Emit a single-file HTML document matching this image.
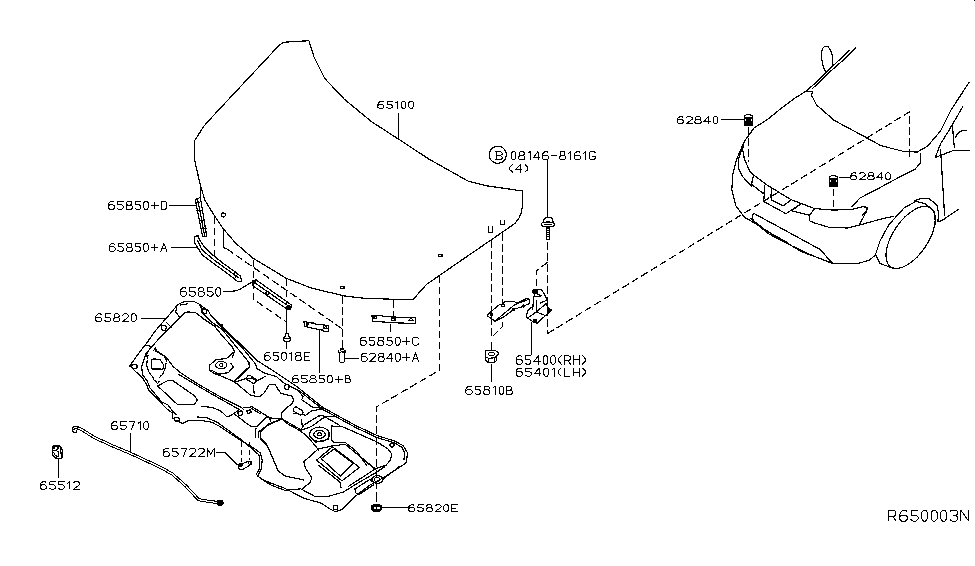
<!DOCTYPE html>
<html><head><meta charset="utf-8"><style>
html,body{margin:0;padding:0;background:#fff;width:975px;height:566px;overflow:hidden}
svg{display:block}
</style></head><body>
<svg width="975" height="566" viewBox="0 0 975 566" shape-rendering="crispEdges">
<g fill="none" stroke="#000" stroke-width="1.2" stroke-linejoin="round" stroke-linecap="round">
<!-- HOOD 65100 -->
<path d="M194.5,159.5 L194.5,140.9 L203.5,126.8 L207.1,122.4 L218.6,110 L279.6,44.8 L284.1,42.2 L308.9,40.7 L314.2,57.5 L324.9,78.6 L344.7,99.6 L371.9,121.9 L397.9,138.7 L428.8,159 L468.4,181.3 L486.1,185.7 L522.5,191 L522.5,205.3 L521.5,212 L518.8,218.5 L515.5,222.8 L511.4,225.9 L490.7,240.2 L456.3,263.8 L426.4,284.5 L412.7,299.9 L364.4,298.3 L344.7,296 L311.1,288 L286.3,278.3 L252.7,258 L235.5,243 L222.8,228.1 L214.9,216.5 L205.1,200.6 L200.5,186 Z"/>
<path d="M200.5,186 L200.5,200"/>
<circle cx="223.3" cy="215" r="2"/>
<path d="M223.5,229 L223.5,247.4 L227.1,249.1"/>
<path d="M398.5,114 L398.5,139"/><path d="M438.5,254.5 L442,254.5 L442,256.5 L438.5,256.5 Z M340.5,286.5 L344,286.5 L344,288.5 L340.5,288.5 Z"/>
<!-- CAR -->
<path d="M849.4,50.5 L830.8,67.8 L817.2,81.4 L806.1,91.2 L795,98 L779.3,109.9 L766.8,120 L754.2,127.8 L744.4,141.4 L736.7,158.9 L732.8,174.4 L731.8,190 L735.7,205.5 L744.4,217.2 L755.8,223.7 L775.9,236.6 L801.7,251.7 L833.3,263.5 L857.7,263.5 L869.2,260.3 L875,255.3"/>
<path d="M855.6,48 L844.4,59.1 L829.6,72.1 L812.3,88.8"/>

<path d="M825.9,72.1 C821.5,66 821.6,58 821.6,53.5 C822,48 824,46.1 826.5,46.1 C829,46.1 830.2,48.6 832.1,54.8 L832.1,65.9"/>
<path d="M744.4,141.4 L742.5,149.2 L744.4,158.9 L749.3,170.5 L754.2,175.4 L765.8,184.2 L791.1,199.7 L814.7,208.6 L833.3,210.1 L852,209.4 L863.5,206.5 L867.1,207.9 L866.4,211.5 L859.2,225.2 L847.7,228 L829,227.3 L814.7,223 L809.5,220.8 L809.5,215.1 L814.7,208.6"/>
<path d="M743.5,144.3 L738.5,158.9 L738.5,168.6 L742.5,176.4 L750.3,185.1 L751.2,186.1 L753.2,176.4"/>
<path d="M753.2,176.4 L751.2,184.2 L763.9,193.9 L764.9,185.1"/>
<path d="M764.9,185.1 L763.7,201.5 L786,213.7 L800.3,204.3 L791.7,210.8 L808.9,215.1"/>
<path d="M771.7,189 L770.9,196.4 L771.6,200 L783.1,205.8 L791,200"/>
<path d="M752.9,214.4 L754.4,213.7 L820.4,249.6 L829,259.6 L833.3,263.9 L811.8,255.3 L787.4,243.8 L768.7,233.8 L753.6,221.6 L752.2,217.3 Z"/>
<path d="M750.8,218.7 L768,232 L787.4,242.4"/>
<!-- windshield base / crease -->
<path d="M807.4,91.5 L812.3,91.5 L811.7,95.6 L816.6,105 L834.4,120.5 L864.1,136.4 L881.2,145.8 L902.4,151.1 L917.3,152.1 L927.9,145.8 L940.6,130.9 L951.2,109.7 L969.3,82.1"/>
<path d="M962.9,106.5 L948,132 L940.6,143.7 L935.3,157.4 L953.4,150.5 L969.3,150.5"/>
<path d="M952.3,124.6 L954.4,147.9"/>
<path d="M955.5,137.3 C958,132 962,130 966.1,130.9"/>
<path d="M940.6,150 L944.6,215.5"/>
<path d="M920.5,153.2 L920.5,162.7 L915.2,169.1 L902.4,175.5 L875.5,190 L860,198 L852,206.5"/>
<path d="M865,206.5 L868,208.8 L862,216"/>
<path d="M859.2,225.2 L880,219.3 L893.5,216.3"/>
<!-- wheel -->
<ellipse cx="910.6" cy="237.4" rx="35.5" ry="17.5" transform="rotate(-56 910.6 237.4)"/>
<path d="M895,268.8 L880,263.6 L875.5,254.6 L880,241 L889,224.5 L904,208 L916,201.3 L925,203.5 L934,211 L935.6,224.5"/>
<path d="M914.5,200.5 L922,198.3 L929.6,199 L937,205 L938.6,214 L937.8,221.5 L941.6,220.8 L958.1,209.5"/>
<!-- clips 62840 car -->
<path d="M722,119.5 L743,119.5"/>
<g transform="translate(-85,-61)"><path d="M829.5,186 L829.5,178 Q829.5,176.2 831,176 L832.2,175.2 L834.3,175.2 L835.5,176 Q837.5,176.2 837.5,178 L837.5,186 Z M830.5,179 L836.5,179 M831,181 L836,181"/><path d="M829.5,182.5 L837.5,182.5 L837.5,185.5 L836.5,186.5 L830.5,186.5 L829.5,185.5 Z" fill="#000"/></g>
<path d="M839.2,177.5 L850,177.5"/>
<g transform="translate(0,0)"><path d="M829.5,186 L829.5,178 Q829.5,176.2 831,176 L832.2,175.2 L834.3,175.2 L835.5,176 Q837.5,176.2 837.5,178 L837.5,186 Z M830.5,179 L836.5,179 M831,181 L836,181"/><path d="M829.5,182.5 L837.5,182.5 L837.5,185.5 L836.5,186.5 L830.5,186.5 L829.5,185.5 Z" fill="#000"/></g>
</g>
<g fill="none" stroke="#000" stroke-width="1.2" stroke-dasharray="7.5,3.5">
<path d="M547.4,333.7 L909.5,111.8 L909.5,159.6"/>
<path d="M748.5,127 L748.5,162"/>
<path d="M833.5,188.5 L833.5,209"/>
</g>

<!-- HINGE AREA -->
<g fill="none" stroke="#000" stroke-width="1.2" stroke-linejoin="round" stroke-linecap="round">
<path d="M547.5,161 L547.5,217"/>
<path d="M543.7,222 Q543.7,217.1 548.3,217.1 Q553,217.1 553,222"/>
<ellipse cx="548" cy="224.5" rx="6.8" ry="2.5"/>
<path d="M545,224.5 L551,224.5"/>
<path d="M546.5,227 L546.5,239.5 L549.5,239.5 L549.5,227 M546.4,228.5 L549.9,228.5 M546.4,230.5 L549.9,230.5 M546.4,232.5 L549.9,232.5 M546.4,234.5 L549.9,234.5 M546.4,236.5 L549.9,236.5"/>
<path d="M488.5,227 L488.5,232.5 L492.5,232.5 L492.5,227"/>
<path d="M500.5,220.6 L500.5,224.5 L504.5,224.5 L504.5,220.6"/>
<path d="M487.3,315.1 L490.5,312 L499.5,304.5 L501.6,304.5 L505.3,301.5 L514.3,301.5 L515.4,302.5 L518.6,302.5 L527.1,298.4 L528.7,299 L529.5,300.8 L529.5,303.5 L522.3,306.7 L513.8,309.3 L504.8,316.2 L495.3,321.5 L487.8,316.2 Z"/>
<path d="M495.8,320.5 L514.9,304.5 L527.6,299.8"/>
<circle cx="503.2" cy="305.6" r="1.4"/>
<circle cx="491.5" cy="314.9" r="1.3" fill="#000"/>
<circle cx="513.8" cy="309.3" r="1.1" fill="#000"/><circle cx="523.4" cy="306.1" r="1.1" fill="#000"/>
<path d="M532.7,290.6 L535.3,293.3 L533.6,297.7 L532.7,309.2 M541.5,289.7 L545.9,296.8 L546.4,300.3 L540.6,303 M527.4,310.9 L526.5,317.1 L532.7,321.6 L537.1,323.3 L541.5,318.9 L545.9,315.4 L547.7,313.6 L551.3,310.1 L547.7,307 L545.9,303 M527.4,310.9 L533.6,305.6 M527.4,318 L535.3,312.7 L545.9,303.9 M536.2,311.8 L545,315.4 M536.5,300.3 L536.5,310.9"/>
<path d="M532.2,290.2 L537.5,289.5 L537.5,292.5 L533.5,293.5 Z" fill="#000"/><path d="M537.5,289.5 L541.5,289.5 L543.3,292.4 L546,297 M534,296.5 L540,296.5 M536,293.5 L541,295.5"/>
<path d="M547.7,307.5 L550.5,310 L547.7,312.5 Z" fill="#000"/>
<circle cx="535.3" cy="320.7" r="1.6" fill="#000"/>
<path d="M531.5,323 L531.5,354"/>
<path d="M491.5,342.1 L491.5,350.1"/>
<path d="M485.4,351.1 L488.6,350.5 L495,350.5 L497.6,351.7 L498.7,353.8 L496.5,356.4 L494.4,357.8 L488.6,358.3 L485.4,357 Z M485.5,357 L485.5,359.6 L486.5,361.2 L488.6,362.5 L494.4,362.5 L496.5,360.7 L496.5,356.4 M488.5,358.3 L488.5,362.3 M494.5,357.8 L494.5,362.3"/>
<ellipse cx="491.5" cy="354" rx="3" ry="1.7"/>
<path d="M491.5,364.1 L491.5,381.5"/>
<circle cx="497.8" cy="154.8" r="8.6"/>
</g>
<g fill="none" stroke="#000" stroke-width="1.2" stroke-dasharray="7.5,3.5">
<path d="M491.5,240 L491.5,337.4 L502.5,326.6 L502.5,318"/>
<path d="M502.5,233 L502.5,305"/>
<path d="M547.5,242 L547.5,333.7"/>
<path d="M547.5,262.3 L536.5,270.8 L536.5,290"/>
</g>
<!-- LEFT BRACKETS & DASHED -->
<g fill="none" stroke="#000" stroke-width="1.2" stroke-linejoin="round" stroke-linecap="round">
<path d="M169.7,205.5 L196,205.5"/>
<path d="M172,247.5 L197,247.5"/>
<path d="M224,291.5 L235,291 C243,289 247,284 252.7,281.8"/>
<path d="M195.2,199.5 L200.4,197.4 L206.7,236.4 L202.7,236.9 Z M197.8,200 L204.7,236"/>
<path d="M195.5,202.5 L199,202.5 M197,210.5 L201,210.5 M200,220.5 L204,220.5 M202,228.5 L206,228.5"/>
<path d="M194.4,236.3 L198.3,235.8 L199.2,238.8 L202.6,244.6 L205.6,248.5 L214.3,256.3 L224,264 L233.8,270.9 L240.6,276.2 L241.6,281.5 L237.7,281.5 L224,270.9 L214.3,264 L202.6,255.3 L198.8,249.5 L194.4,242.6 Z"/>
<path d="M197.8,240.7 L201.7,249.5 L214.3,260.2 L238.6,277.7 M234.3,272 L235.5,277.5"/>
<path d="M252,282.5 L255.5,279.5 L291.5,305 L290.5,309.5 L287.5,309.5 L252.5,285.5 Z M255,283 L289,306.5"/>
<circle cx="254" cy="282" r="1.8" fill="#000"/>
<circle cx="288.5" cy="307" r="1.8" fill="#000"/>
<ellipse cx="267.5" cy="293" rx="1.8" ry="1.2"/>
<path d="M286.5,309 L286.5,333.4"/>
<path d="M285.5,336 L286,333.5 L288,333.5 L288.5,336 L290.8,338 L290.8,339.5 L289,341.5 L285,341.5 L283.2,339.5 L283.2,338 Z M284,338.5 L290,338.5"/><path d="M286.5,341.6 L286.5,348.6"/>
<path d="M319.5,331 L319.5,372"/>
<path d="M304,321.5 L306.1,321.5 L308.6,322.7 L313.9,323.1 L315.9,324.4 L323.3,324.8 L328.5,325.6 L328.5,331.5 L324.1,331.5 L323.3,330.1 L319.2,329.7 L310.2,327.6 L304.5,326.4 Z"/><path d="M323.5,325.6 L323.5,328.5 L327.8,328.5"/><circle cx="307.3" cy="323.9" r="1.3" fill="#000"/><circle cx="325.8" cy="327.5" r="1"/>
<path d="M372,315.5 L379.4,315.5 L386.2,316.7 L415.5,317.9 L415.5,323.5 L398,322.9 L386.9,322.2 L372.6,321.3 Z"/>
<path d="M374,316.5 L376.5,316.5 L376.5,318.5 L374,318.5 Z M391.5,318.5 L395,318.5 L395,320.5 L391.5,320.5 Z M409,320.5 L411,317.5 L413,320.5 Z"/>
<path d="M390.5,324.1 L390.5,331.5"/>
<path d="M340.3,348.5 L343.8,348.5 L343.8,350 L345.5,350.5 L345.5,352.5 L338.1,352.5 L338.1,350.5 L340.3,350 Z" fill="#000"/>
<path d="M339.5,351 L341.5,352.3 M341.5,350.8 L343.5,350.8" stroke="#fff"/>
<path d="M339.5,353 L339.5,361.5 L340.5,362.5 L343.5,362.5 L344.5,361.5 L344.5,353"/>
<path d="M344.8,358.5 L358.7,358.5"/>
<path d="M141.4,318.5 L166.8,318.5"/>
<path d="M130.5,433.2 L130.5,452.5"/>

<path d="M216.3,452.5 L225,452.5 L238.9,466"/>
<path d="M382,507.5 L407,507.5"/>
<path d="M371.3,505.5 L373.5,505.5 L374,504.5 L379,504.5 L379.5,505.5 L381.5,505.5 L381.5,509.5 L380.5,510.5 L378.5,511.5 L374.5,511.5 L372.5,510.5 L371.3,509.5 Z" fill="#000"/><path d="M373.5,506.5 L375.5,506.5 L375.5,508.6 L373.5,508.6 Z M377,506.5 L379.5,506.5 L379.5,508.5 L377,508.5 Z" fill="#fff" stroke="none"/>
<path d="M376.5,493 L376.5,501"/>
</g>
<g fill="none" stroke="#000" stroke-width="1.2" stroke-dasharray="7.5,3.5">
<path d="M214.5,216.5 L214.5,258"/>
<path d="M227.1,249.1 L342.4,329"/>
<path d="M253.5,259.5 L253.5,299.3 L287,322.4"/><path d="M286.5,278.6 L286.5,305"/>
<path d="M342.5,296 L342.5,347.6"/>
<path d="M393.5,300 L393.5,316"/>
<path d="M439.5,275.5 L439.5,370.2 L376.5,406.9 L376.5,493"/>
</g>

<!-- INSULATOR 65820 -->
<g fill="none" stroke="#000" stroke-width="1.2" stroke-linejoin="round" stroke-linecap="round">
<!-- outer outline -->
<path d="M129.8,366 L137.2,355.3 L146.2,343.7 L155.7,330.4 L166.3,318.2 L178,304.5 L184.3,301.5 L193.9,301.5 L198.5,303.7 L208.4,310.7 L210.5,315 L220.4,324.9 L240.9,344.6 L256.4,360.2 L272,370 L297.4,387 L322.8,407.5 L356.6,426 L376.3,435.2 L396.1,441.6 L403.2,445.8 L407.5,452.9 L406.7,459.9 L405.6,463.4 L383.3,477.7 L369,485.6 L354.7,496.8 L342,509.5 L335.6,511.8 L330.9,509.5 L321.3,503.1 L303.8,498.3 L285,488.4 L271,483.1 L262.2,479.6 L257.8,476 L261.3,469 L262.2,460.1 L260.4,453 L253.3,447.7 L241,440.7 L219.8,426.5 L211.8,422.2 L201.2,420.5 L188.5,420.5 L182.7,423.6 L179,421.7 L175.9,420.9 L172.5,417.7 L172.5,413 L167.9,409.8 L160,401.8 L148.9,390.7 L146.5,384.3 L142.5,378 Z"/>
<!-- top edge second line -->
<path d="M211.2,315.7 L222.5,328.4 L240.9,346.1 L255.4,363.8 L257,368.6 L265,373.4 L276.2,376.4 L283.3,382.7 L297.4,389.8 L301.6,392.6 L322.8,409.5 L356.6,428 L373.5,435.9 L376.3,437.3 L394.7,443 L401.8,447.2 L404.6,452.9 L403.9,459.9"/>
<!-- bottom edge second line -->
<path d="M197,416.9 L207.5,418 L217.1,422.2 L241,439.5 L253.3,449.7 L259,455 L259.8,460.1 L259.2,469 L256,475"/>
<path d="M262.2,479.6 L271,485.1 L285,490.4 L300.7,488.8 L315,496.5 L327.7,496.5 L343.6,492 L356.3,484 L375.4,472.9 L384.9,466.6"/>
<!-- top-left frame inner -->
<path d="M146.2,356 L148.8,350.1 L163.1,334.1 L179,318.8 L185.4,312.4 L188.6,311.9 L195.7,312.8 L204.1,319.2 L214.7,326.3 L222.5,336.2 L232.4,346.8 L234.5,351.7 L232.4,357.4"/>
<path d="M199.9,305.1 L204.1,315 L212.6,322.7 L222.5,329.8 L249.5,363 L249.5,367.3 L235,381"/>
<path d="M176.9,305 L175.8,311.9 L180.1,317.7 M180.1,305 L187.5,303.9"/>
<path d="M144.1,345.3 L150.4,346.1 M155.2,347.7 L153.6,350.9 M166,322 L172,328"/>
<!-- left band lines -->
<path d="M148.8,350.1 L145.7,354.1 L141.7,366.8 L142.5,374.7 L147.3,381.1 L149.7,387.5 L153.6,392.2 L161.6,401.8 L167.9,405 L172.7,411.3 L175.9,414.5"/>
<path d="M148,355.7 L146.5,365.2 L148.8,371.6 L153.6,378.7 L156.8,382.7" stroke-dasharray="3,1.5"/>
<path d="M151.2,360.4 L153.6,358.8 L160,359.6 L163.2,364.4 L164,368.4 L162.4,369.2 L151.2,368.4 Z"/>
<path d="M152,368.8 L162,369.5" stroke-width="1.6"/>
<path d="M155.2,350.9 L164.7,356.5 L166.3,360.4 L165.5,366.8 L163.2,373.2 L158.4,378.7" stroke-dasharray="3,1.5"/>
<path d="M155.2,348.5 L156.8,350.9 L166.3,357.3 L172.7,366 L180,372.4 L198,384.1 L220.3,396.8 L241.4,407.4 L243.6,409.5"/>
<path d="M179,374.7 L199.1,386.7 L220.3,398.9 L239.3,409.5 L241.4,411.1"/>
<path d="M157.6,385.9 L167.9,380.5 L172.7,380.5 L195,396.2 L197.3,400.2 L194.2,404.5 L177.5,404.5 Z"/>
<path d="M157.6,383.5 L159.2,381.1"/>
<ellipse cx="134.5" cy="366.5" rx="2.6" ry="2"/>
<ellipse cx="176.7" cy="419.3" rx="2.6" ry="2"/>
<circle cx="163.7" cy="327.8" r="2.6"/>
<circle cx="204.1" cy="311.4" r="2.6"/>
<circle cx="221.1" cy="325.6" r="1.2"/>
<!-- boss left -->
<path d="M233.2,352.7 L226.8,358.3 L215.7,359.9 L209.3,365.4 L210.1,371 L215.7,374.2 L222.8,376.6 L234.7,382.1 L237.1,383.7"/>
<ellipse cx="221.2" cy="365.1" rx="5.5" ry="3.6"/>
<circle cx="221.2" cy="365.1" r="1.5"/>
<path d="M211.7,370.2 L218.8,374.2 L228.4,372.6 L233.2,367 L230.8,363.1"/>
<!-- center-left panel -->
<path d="M247.5,360.7 L249.8,366.2 L234.7,380.5 L235.5,383.7"/>
<path d="M236,382 L244.3,379 L252,378 L257,381 L265,376.5"/>
<path d="M253.1,385.1 L254.2,393.6"/>
<rect x="246.4" y="376.8" width="10" height="5" rx="2.2" transform="rotate(32 251.4 379.3)"/>
<path d="M235,382.1 L250.5,395.2 L259,397 L264,393.2 L269.1,384.8 L274.8,384.1 L278.3,389.8 L281.1,393.3 L291.7,396.1 L293.9,400.4 L291.7,403.9 L286.1,408.2 L281.1,413.8 L281.9,418.8 L290.3,423.7 L301.6,430.1 L311.5,426.5 L322.8,418.1 L328.5,416.5 L335,416.5"/>
<circle cx="286.8" cy="387" r="2.4"/>
<path d="M298.8,391.2 L303.1,396.9 L301.6,399.7 L313,407.5 L322.8,408.2"/>
<rect x="293.1" y="408.5" width="10" height="5" rx="2.2" transform="rotate(32 298.1 411)"/>
<path d="M293.2,413.1 L305.9,415.2 L311.5,411 L322.8,408.9"/>
<path d="M301.6,419.5 L302.3,426.5"/>
<!-- middle rib and holes -->
<path d="M201.2,406.3 L211.8,407.4 L220.3,410.6 L226.6,416.5 L228.7,416.5 L235.1,412.7 L238.3,410.6"/>
<path d="M234,413.7 L247.8,424.3 L251.6,426.5 L256.9,426.5 L262.2,421.2 L265.7,417.7 L281.9,418.8"/>
<path d="M243.6,407.9 L252,406.8 L260,411.6 L269.3,417.7 L271,422.1"/>
<path d="M249.9,407.4 L260,413.7"/>
<ellipse cx="240.4" cy="413.2" rx="2.5" ry="2.2"/>
<path d="M246.8,410.5 L250.5,409.8 L251.5,412.5 L247.5,413.5 Z"/>
<path d="M256,428.3 L255.1,437.1"/>
<path d="M258.5,437.1 L258.5,431.8 L265.7,426.5 L281.9,418.8"/>
<path d="M260.4,438.9 L267.5,446 L272.8,458.3 L278.1,470.7 L285,476 L303.8,480"/>
<path d="M281.9,418.8 L269.1,423.7 L260.5,432.2 L260.5,437.8 L266.3,443.5 L269.1,450"/>
<path d="M281.9,418.8 L287.5,423.7 L300.2,430.8 L307.3,436.4 L315.8,446.3 L318.6,450"/>
<!-- right boss -->
<ellipse cx="319.5" cy="434.3" rx="10" ry="7.2"/>
<ellipse cx="319.5" cy="434.3" rx="5.8" ry="4"/>
<ellipse cx="319.5" cy="434.3" rx="2.3" ry="1.5"/>
<path d="M310.1,436.4 L315.8,442.1 L328.5,439.3 L329.2,432.2"/>
<!-- right panel -->
<path d="M331.1,426 L342.4,426.7 L376.3,441.6 L387.7,448.6 L391.9,454.3 L390.5,459.9 L386.2,465 L375.4,468.9 L348.3,486.4"/>
<path d="M331.1,426 L331.8,440.1 L333.9,442.5 L345.2,442.5 L356.6,451.4 L366.5,465"/>
<path d="M303.8,461.8 L318.1,449.1 L332.4,445.9 L345.2,444.3 L362.6,458.6 L375.4,468.9"/>
<path d="M321.3,458.6 L334,449.1 L353.1,463.4 L340.4,476.1 Z"/>
<path d="M316.6,460.2 L332.4,446.7 L359.5,467.3 L342,480.9 Z"/>
<path d="M303.8,461.8 L305.4,468.1 L311.8,477.7 L310.2,482.4 L302.3,488.8"/>
<path d="M318,465 L340,482 L341,488"/>
<path d="M354.8,489 L369.7,479.5 L373.5,482.5 L373.5,484.8 L359,494.5 L356,493 Z"/>
<path d="M300,431 L304,425 L318.4,416.1 L322.6,415.4 L339.6,425.3"/>
<circle cx="335.6" cy="507.4" r="2.3"/>
<ellipse cx="377" cy="479.5" rx="2.6" ry="2"/>
<path d="M371.5,478.8 L376.2,474.9 L381.8,476.9 L383,479.6 L381.8,482 L377,484 L373.8,482.4 Z"/>
<circle cx="392" cy="445.1" r="2"/>
<path d="M383.4,478.8 L400,466.1"/><path d="M358.7,455 L373.8,468.5"/>
<!-- 65722M clip -->
<path d="M238.3,465.4 L248.9,461 L251.6,462.8 L249.8,465.4 L241.9,469.8 L239.2,469 Z"/>
<circle cx="240.6" cy="465" r="1.7" fill="#000"/>
<circle cx="250.2" cy="462.8" r="1.6"/>
</g>
<g fill="none" stroke="#000" stroke-width="1.2" stroke-dasharray="5,3">
<path d="M241.5,442.4 L241.5,462"/>
<path d="M249.5,442.4 L249.5,460"/>
</g>
<!-- ROD 65710 & 65512 -->
<g fill="none" stroke-linejoin="round" stroke-linecap="butt">
<path id="rodc" d="M79.5,428.3 L95,437.8 L112.7,445.9 L130.3,453.3 L160,467.1 L172.4,474 L186,486.1 L198.6,499.7 L204.4,500.7 L218,502.6" stroke="#000" stroke-width="3.2"/>
<path d="M79.5,428.3 L95,437.8 L112.7,445.9 L130.3,453.3 L160,467.1 L172.4,474 L186,486.1 L198.6,499.7 L204.4,500.7 L218,502.6" stroke="#fff" stroke-width="1.2"/>
<path d="M80.1,427.3 L74.2,426.4 L72.3,428.5 L72.3,430.5 L74.2,432.5 L76.6,432.5 L76.6,430.5 L75.8,429.7" stroke="#000" stroke-width="1.2"/>
<path d="M79.3,429.3 L74.6,428.5 L73.6,430" stroke="#000" stroke-width="1.2"/>
<path d="M217.5,500.5 L222.5,500.5 L223.5,503.5 L221,506 L218,505 Z" stroke="#000" stroke-width="1.2" fill="#000"/>
<path d="M52.1,446.5 L54.2,445.5 L59,445.5 L60.5,447 L62,449 L62.5,451 L62.5,456.5 L61.5,458.5 L55.5,458 L53,455.5 L52.1,454 Z" stroke="#000" stroke-width="1.2"/>
<path d="M53,446.5 L59.5,446.5 M53,448 L55,448 M57,448 L59,448 M53.5,450 L56,450.5 L58,449 M53.5,452 L55,455 L57.5,456.5 L58.5,456 L58.5,452 L57,451 M60.5,448 L61,454 M61.5,452 L61.5,457" stroke="#000" stroke-width="1.2"/>
<path d="M58.5,459 L58.5,477.8" stroke="#000" stroke-width="1.2"/>
</g>

<rect x="974" y="0" width="1" height="1" fill="#000"/>
<path d="M495,151.5 L500.5,151.5 L502,153 L502,154.3 L500.5,155.5 L496.5,155.5 M500.5,155.5 L502,156.8 L502,158.3 L500.8,159.5 L495,159.5 M496.5,151.5 L496.5,159.5" fill="none" stroke="#000" stroke-width="1"/>
<g fill="none" stroke="#000" stroke-width="1" stroke-linejoin="round" stroke-linecap="round">
<path d="M 113.92 201.94 L113.16 201.20 L111.06 201.20 L109.16 202.86 L108.40 204.89 L108.40 208.12 L109.83 209.50 L113.16 209.50 L114.58 208.12 L114.58 206.27 L113.16 204.89 L109.83 204.89 L108.40 206.27 M 123.14 201.20 L117.91 201.20 L117.72 204.89 L121.72 204.89 L123.14 206.27 L123.14 208.12 L121.72 209.50 L118.86 209.50 L117.44 208.39 M 127.61 201.20 L130.56 201.20 L131.51 202.12 L131.51 204.06 L130.47 205.07 L127.71 205.07 L126.66 204.06 L126.66 202.12 ZM 127.71 205.07 L126.00 206.36 L126.00 208.39 L127.14 209.50 L131.04 209.50 L132.18 208.39 L132.18 206.36 L130.47 205.07 M 140.74 201.20 L135.51 201.20 L135.32 204.89 L139.31 204.89 L140.74 206.27 L140.74 208.12 L139.31 209.50 L136.46 209.50 L135.03 208.39 M 145.02 201.20 L146.92 201.20 L148.35 203.04 L148.35 207.66 L146.92 209.50 L145.02 209.50 L143.60 207.66 L143.60 203.04 Z M 151.20 205.44 L158.34 205.44 M154.77 202.12 L154.77 208.76 M 161.19 201.20 L161.19 209.50 L165.00 209.50 L166.90 207.66 L166.90 203.04 L165.00 201.20 Z"/>
<path d="M 114.42 244.10 L113.67 243.40 L111.61 243.40 L109.75 244.98 L109.00 246.91 L109.00 249.98 L110.40 251.30 L113.67 251.30 L115.07 249.98 L115.07 248.23 L113.67 246.91 L110.40 246.91 L109.00 248.23 M 123.48 243.40 L118.34 243.40 L118.15 246.91 L122.07 246.91 L123.48 248.23 L123.48 249.98 L122.07 251.30 L119.27 251.30 L117.87 250.25 M 127.86 243.40 L130.76 243.40 L131.69 244.28 L131.69 246.12 L130.67 247.09 L127.96 247.09 L126.93 246.12 L126.93 244.28 ZM 127.96 247.09 L126.28 248.32 L126.28 250.25 L127.40 251.30 L131.23 251.30 L132.35 250.25 L132.35 248.32 L130.67 247.09 M 140.75 243.40 L135.62 243.40 L135.43 246.91 L139.35 246.91 L140.75 248.23 L140.75 249.98 L139.35 251.30 L136.55 251.30 L135.15 250.25 M 144.95 243.40 L146.82 243.40 L148.22 245.16 L148.22 249.54 L146.82 251.30 L144.95 251.30 L143.55 249.54 L143.55 245.16 Z M 151.02 247.44 L158.03 247.44 M154.53 244.28 L154.53 250.60 M 160.83 251.30 L163.86 243.40 L166.90 251.30 M161.86 248.67 L165.87 248.67"/>
<path d="M 185.88 288.44 L185.11 287.70 L182.99 287.70 L181.07 289.36 L180.30 291.39 L180.30 294.62 L181.74 296.00 L185.11 296.00 L186.55 294.62 L186.55 292.77 L185.11 291.39 L181.74 291.39 L180.30 292.77 M 195.21 287.70 L189.92 287.70 L189.73 291.39 L193.77 291.39 L195.21 292.77 L195.21 294.62 L193.77 296.00 L190.88 296.00 L189.44 294.89 M 199.73 287.70 L202.71 287.70 L203.67 288.62 L203.67 290.56 L202.62 291.57 L199.83 291.57 L198.77 290.56 L198.77 288.62 ZM 199.83 291.57 L198.10 292.86 L198.10 294.89 L199.25 296.00 L203.19 296.00 L204.35 294.89 L204.35 292.86 L202.62 291.57 M 213.00 287.70 L207.71 287.70 L207.52 291.39 L211.56 291.39 L213.00 292.77 L213.00 294.62 L211.56 296.00 L208.68 296.00 L207.23 294.89 M 217.33 287.70 L219.26 287.70 L220.70 289.54 L220.70 294.16 L219.26 296.00 L217.33 296.00 L215.89 294.16 L215.89 289.54 Z"/>
<path d="M 383.25 101.92 L382.50 101.30 L380.43 101.30 L378.55 102.70 L377.80 104.41 L377.80 107.13 L379.21 108.30 L382.50 108.30 L383.91 107.13 L383.91 105.58 L382.50 104.41 L379.21 104.41 L377.80 105.58 M 392.36 101.30 L387.19 101.30 L387.01 104.41 L390.95 104.41 L392.36 105.58 L392.36 107.13 L390.95 108.30 L388.13 108.30 L386.73 107.37 M 395.65 102.70 L397.81 101.30 L397.81 108.30 M 402.70 101.30 L404.58 101.30 L405.98 102.86 L405.98 106.74 L404.58 108.30 L402.70 108.30 L401.29 106.74 L401.29 102.86 Z M 410.21 101.30 L412.09 101.30 L413.50 102.86 L413.50 106.74 L412.09 108.30 L410.21 108.30 L408.80 106.74 L408.80 102.86 Z"/>
<path d="M 512.69 151.50 L514.54 151.50 L515.94 153.34 L515.94 157.96 L514.54 159.80 L512.69 159.80 L511.30 157.96 L511.30 153.34 Z M 520.29 151.50 L523.17 151.50 L524.09 152.42 L524.09 154.36 L523.07 155.37 L520.39 155.37 L519.37 154.36 L519.37 152.42 ZM 520.39 155.37 L518.72 156.66 L518.72 158.69 L519.83 159.80 L523.63 159.80 L524.74 158.69 L524.74 156.66 L523.07 155.37 M 527.99 153.16 L530.12 151.50 L530.12 159.80 M 538.00 159.80 L538.00 151.50 L533.55 157.31 L539.58 157.31 M 547.73 152.24 L546.99 151.50 L544.95 151.50 L543.10 153.16 L542.36 155.19 L542.36 158.42 L543.75 159.80 L546.99 159.80 L548.38 158.42 L548.38 156.57 L546.99 155.19 L543.75 155.19 L542.36 156.57 M 551.16 155.74 L556.73 155.74 M 561.08 151.50 L563.96 151.50 L564.88 152.42 L564.88 154.36 L563.86 155.37 L561.18 155.37 L560.16 154.36 L560.16 152.42 ZM 561.18 155.37 L559.51 156.66 L559.51 158.69 L560.62 159.80 L564.42 159.80 L565.53 158.69 L565.53 156.66 L563.86 155.37 M 568.78 153.16 L570.91 151.50 L570.91 159.80 M 579.72 152.24 L578.98 151.50 L576.94 151.50 L575.08 153.16 L574.34 155.19 L574.34 158.42 L575.73 159.80 L578.98 159.80 L580.37 158.42 L580.37 156.57 L578.98 155.19 L575.73 155.19 L574.34 156.57 M 583.61 153.16 L585.74 151.50 L585.74 159.80 M 595.20 152.88 L593.81 151.50 L590.56 151.50 L589.17 152.88 L589.17 158.42 L590.56 159.80 L593.81 159.80 L595.20 158.42 L595.20 156.11 L592.70 156.11"/>
<path d="M 269.59 353.00 L268.83 352.30 L266.75 352.30 L264.86 353.88 L264.10 355.81 L264.10 358.88 L265.52 360.20 L268.83 360.20 L270.25 358.88 L270.25 357.13 L268.83 355.81 L265.52 355.81 L264.10 357.13 M 278.77 352.30 L273.56 352.30 L273.37 355.81 L277.35 355.81 L278.77 357.13 L278.77 358.88 L277.35 360.20 L274.51 360.20 L273.09 359.15 M 283.03 352.30 L284.92 352.30 L286.34 354.06 L286.34 358.44 L284.92 360.20 L283.03 360.20 L281.61 358.44 L281.61 354.06 Z M 289.65 353.88 L291.83 352.30 L291.83 360.20 M 296.94 352.30 L299.87 352.30 L300.82 353.18 L300.82 355.02 L299.78 355.99 L297.03 355.99 L295.99 355.02 L295.99 353.18 ZM 297.03 355.99 L295.33 357.22 L295.33 359.15 L296.47 360.20 L300.35 360.20 L301.48 359.15 L301.48 357.22 L299.78 355.99 M 310.00 352.30 L304.32 352.30 L304.32 360.20 L310.00 360.20 M304.32 356.25 L309.05 356.25"/>
<path d="M 297.90 375.97 L297.14 375.30 L295.05 375.30 L293.16 376.80 L292.40 378.63 L292.40 381.55 L293.82 382.80 L297.14 382.80 L298.56 381.55 L298.56 379.88 L297.14 378.63 L293.82 378.63 L292.40 379.88 M 307.09 375.30 L301.88 375.30 L301.69 378.63 L305.67 378.63 L307.09 379.88 L307.09 381.55 L305.67 382.80 L302.83 382.80 L301.41 381.80 M 311.55 375.30 L314.49 375.30 L315.44 376.13 L315.44 377.88 L314.39 378.80 L311.64 378.80 L310.60 377.88 L310.60 376.13 ZM 311.64 378.80 L309.94 379.97 L309.94 381.80 L311.07 382.80 L314.96 382.80 L316.10 381.80 L316.10 379.97 L314.39 378.80 M 324.63 375.30 L319.42 375.30 L319.23 378.63 L323.21 378.63 L324.63 379.88 L324.63 381.55 L323.21 382.80 L320.37 382.80 L318.94 381.80 M 328.90 375.30 L330.79 375.30 L332.21 376.97 L332.21 381.13 L330.79 382.80 L328.90 382.80 L327.47 381.13 L327.47 376.97 Z M 335.06 379.13 L342.17 379.13 M338.61 376.13 L338.61 382.13 M 345.01 375.30 L345.01 382.80 L349.37 382.80 L350.70 381.63 L350.70 380.13 L349.37 378.97 L345.01 378.97 M348.42 378.97 L349.56 377.97 L349.56 376.30 L348.42 375.30 L345.01 375.30"/>
<path d="M 521.60 356.54 L520.83 355.80 L518.70 355.80 L516.77 357.46 L516.00 359.49 L516.00 362.72 L517.45 364.10 L520.83 364.10 L522.27 362.72 L522.27 360.87 L520.83 359.49 L517.45 359.49 L516.00 360.87 M 530.96 355.80 L525.65 355.80 L525.46 359.49 L529.51 359.49 L530.96 360.87 L530.96 362.72 L529.51 364.10 L526.62 364.10 L525.17 362.99 M 538.49 364.10 L538.49 355.80 L533.86 361.61 L540.13 361.61 M 544.48 355.80 L546.41 355.80 L547.85 357.64 L547.85 362.26 L546.41 364.10 L544.48 364.10 L543.03 362.26 L543.03 357.64 Z M 552.20 355.80 L554.13 355.80 L555.58 357.64 L555.58 362.26 L554.13 364.10 L552.20 364.10 L550.75 362.26 L550.75 357.64 Z M 561.37 355.80 L558.76 358.57 L558.76 361.33 L561.37 364.10 M 564.26 364.10 L564.26 355.80 L569.09 355.80 L570.25 356.91 L570.25 359.30 L569.09 360.41 L564.26 360.41 M567.74 360.41 L570.54 364.10 M 573.43 355.80 L573.43 364.10 M579.71 355.80 L579.71 364.10 M573.43 359.95 L579.71 359.95 M 582.60 355.80 L585.21 358.57 L585.21 361.33 L582.60 364.10"/>
<path d="M 521.76 368.81 L520.96 368.10 L518.78 368.10 L516.79 369.70 L516.00 371.66 L516.00 374.77 L517.49 376.10 L520.96 376.10 L522.45 374.77 L522.45 372.99 L520.96 371.66 L517.49 371.66 L516.00 372.99 M 531.39 368.10 L525.93 368.10 L525.73 371.66 L529.90 371.66 L531.39 372.99 L531.39 374.77 L529.90 376.10 L526.92 376.10 L525.43 375.03 M 539.13 376.10 L539.13 368.10 L534.37 373.70 L540.82 373.70 M 545.29 368.10 L547.27 368.10 L548.76 369.88 L548.76 374.32 L547.27 376.10 L545.29 376.10 L543.80 374.32 L543.80 369.88 Z M 552.24 369.70 L554.52 368.10 L554.52 376.10 M 561.17 368.10 L558.49 370.77 L558.49 373.43 L561.17 376.10 M 564.15 368.10 L564.15 376.10 L570.11 376.10 M 573.09 368.10 L573.09 376.10 M579.54 368.10 L579.54 376.10 M573.09 372.10 L579.54 372.10 M 582.52 368.10 L585.20 370.77 L585.20 373.43 L582.52 376.10"/>
<path d="M 471.47 386.82 L470.70 386.10 L468.59 386.10 L466.67 387.72 L465.90 389.70 L465.90 392.85 L467.34 394.20 L470.70 394.20 L472.15 392.85 L472.15 391.05 L470.70 389.70 L467.34 389.70 L465.90 391.05 M 480.79 386.10 L475.51 386.10 L475.32 389.70 L479.35 389.70 L480.79 391.05 L480.79 392.85 L479.35 394.20 L476.47 394.20 L475.03 393.12 M 485.31 386.10 L488.29 386.10 L489.25 387.00 L489.25 388.89 L488.19 389.88 L485.40 389.88 L484.35 388.89 L484.35 387.00 ZM 485.40 389.88 L483.68 391.14 L483.68 393.12 L484.83 394.20 L488.77 394.20 L489.92 393.12 L489.92 391.14 L488.19 389.88 M 493.28 387.72 L495.49 386.10 L495.49 394.20 M 500.49 386.10 L502.41 386.10 L503.85 387.90 L503.85 392.40 L502.41 394.20 L500.49 394.20 L499.05 392.40 L499.05 387.90 Z M 506.74 386.10 L506.74 394.20 L511.15 394.20 L512.50 392.94 L512.50 391.32 L511.15 390.06 L506.74 390.06 M510.19 390.06 L511.35 388.98 L511.35 387.18 L510.19 386.10 L506.74 386.10"/>
<path d="M 855.96 173.40 L855.21 172.80 L853.14 172.80 L851.25 174.16 L850.50 175.82 L850.50 178.47 L851.91 179.60 L855.21 179.60 L856.62 178.47 L856.62 176.96 L855.21 175.82 L851.91 175.82 L850.50 176.96 M 859.44 173.93 L860.85 172.80 L863.68 172.80 L865.09 173.93 L865.09 175.44 L863.68 176.58 L859.44 179.60 L865.09 179.60 M 869.51 172.80 L872.43 172.80 L873.37 173.56 L873.37 175.14 L872.34 175.97 L869.61 175.97 L868.57 175.14 L868.57 173.56 ZM 869.61 175.97 L867.91 177.03 L867.91 178.69 L869.04 179.60 L872.90 179.60 L874.03 178.69 L874.03 177.03 L872.34 175.97 M 881.37 179.60 L881.37 172.80 L876.85 177.56 L882.97 177.56 M 887.21 172.80 L889.09 172.80 L890.50 174.31 L890.50 178.09 L889.09 179.60 L887.21 179.60 L885.79 178.09 L885.79 174.31 Z"/>
<path d="M 365.70 337.73 L364.94 337.00 L362.85 337.00 L360.96 338.64 L360.20 340.64 L360.20 343.83 L361.62 345.20 L364.94 345.20 L366.36 343.83 L366.36 342.01 L364.94 340.64 L361.62 340.64 L360.20 342.01 M 374.89 337.00 L369.68 337.00 L369.49 340.64 L373.47 340.64 L374.89 342.01 L374.89 343.83 L373.47 345.20 L370.63 345.20 L369.21 344.11 M 379.35 337.00 L382.29 337.00 L383.24 337.91 L383.24 339.82 L382.19 340.83 L379.44 340.83 L378.40 339.82 L378.40 337.91 ZM 379.44 340.83 L377.74 342.10 L377.74 344.11 L378.87 345.20 L382.76 345.20 L383.90 344.11 L383.90 342.10 L382.19 340.83 M 392.43 337.00 L387.22 337.00 L387.03 340.64 L391.01 340.64 L392.43 342.01 L392.43 343.83 L391.01 345.20 L388.17 345.20 L386.74 344.11 M 396.70 337.00 L398.59 337.00 L400.01 338.82 L400.01 343.38 L398.59 345.20 L396.70 345.20 L395.27 343.38 L395.27 338.82 Z M 402.86 341.19 L409.97 341.19 M406.41 337.91 L406.41 344.47 M 418.50 338.37 L417.08 337.00 L414.23 337.00 L412.81 338.37 L412.81 343.83 L414.23 345.20 L417.08 345.20 L418.50 343.83"/>
<path d="M 366.52 353.74 L365.78 353.00 L363.77 353.00 L361.93 354.66 L361.20 356.69 L361.20 359.92 L362.58 361.30 L365.78 361.30 L367.16 359.92 L367.16 358.07 L365.78 356.69 L362.58 356.69 L361.20 358.07 M 369.91 354.38 L371.28 353.00 L374.04 353.00 L375.41 354.38 L375.41 356.23 L374.04 357.61 L369.91 361.30 L375.41 361.30 M 379.72 353.00 L382.56 353.00 L383.48 353.92 L383.48 355.86 L382.47 356.87 L379.81 356.87 L378.80 355.86 L378.80 353.92 ZM 379.81 356.87 L378.16 358.16 L378.16 360.19 L379.26 361.30 L383.02 361.30 L384.12 360.19 L384.12 358.16 L382.47 356.87 M 391.27 361.30 L391.27 353.00 L386.87 358.81 L392.83 358.81 M 396.96 353.00 L398.79 353.00 L400.16 354.84 L400.16 359.46 L398.79 361.30 L396.96 361.30 L395.58 359.46 L395.58 354.84 Z M 402.91 357.24 L409.79 357.24 M406.35 353.92 L406.35 360.56 M 412.54 361.30 L415.52 353.00 L418.50 361.30 M413.55 358.53 L417.49 358.53"/>
<path d="M 101.19 314.49 L100.42 313.80 L98.30 313.80 L96.37 315.36 L95.60 317.27 L95.60 320.30 L97.05 321.60 L100.42 321.60 L101.87 320.30 L101.87 318.57 L100.42 317.27 L97.05 317.27 L95.60 318.57 M 110.55 313.80 L105.24 313.80 L105.05 317.27 L109.10 317.27 L110.55 318.57 L110.55 320.30 L109.10 321.60 L106.21 321.60 L104.76 320.56 M 115.08 313.80 L118.07 313.80 L119.03 314.67 L119.03 316.49 L117.97 317.44 L115.17 317.44 L114.11 316.49 L114.11 314.67 ZM 115.17 317.44 L113.44 318.65 L113.44 320.56 L114.60 321.60 L118.55 321.60 L119.71 320.56 L119.71 318.65 L117.97 317.44 M 122.60 315.10 L124.05 313.80 L126.94 313.80 L128.39 315.10 L128.39 316.83 L126.94 318.13 L122.60 321.60 L128.39 321.60 M 132.72 313.80 L134.65 313.80 L136.10 315.53 L136.10 319.87 L134.65 321.60 L132.72 321.60 L131.28 319.87 L131.28 315.53 Z"/>
<path d="M 116.85 422.38 L116.08 421.70 L113.98 421.70 L112.07 423.22 L111.30 425.08 L111.30 428.03 L112.73 429.30 L116.08 429.30 L117.52 428.03 L117.52 426.34 L116.08 425.08 L112.73 425.08 L111.30 426.34 M 126.12 421.70 L120.86 421.70 L120.67 425.08 L124.69 425.08 L126.12 426.34 L126.12 428.03 L124.69 429.30 L121.82 429.30 L120.39 428.29 M 128.99 421.70 L134.73 421.70 L131.38 429.30 M 138.08 423.22 L140.28 421.70 L140.28 429.30 M 145.25 421.70 L147.17 421.70 L148.60 423.39 L148.60 427.61 L147.17 429.30 L145.25 429.30 L143.82 427.61 L143.82 423.39 Z"/>
<path d="M 45.90 482.28 L45.11 481.60 L42.95 481.60 L40.99 483.12 L40.20 484.98 L40.20 487.93 L41.67 489.20 L45.11 489.20 L46.59 487.93 L46.59 486.24 L45.11 484.98 L41.67 484.98 L40.20 486.24 M 55.43 481.60 L50.02 481.60 L49.83 484.98 L53.95 484.98 L55.43 486.24 L55.43 487.93 L53.95 489.20 L51.01 489.20 L49.53 488.19 M 64.27 481.60 L58.87 481.60 L58.67 484.98 L62.80 484.98 L64.27 486.24 L64.27 487.93 L62.80 489.20 L59.85 489.20 L58.38 488.19 M 67.71 483.12 L69.97 481.60 L69.97 489.20 M 73.61 482.87 L75.08 481.60 L78.03 481.60 L79.50 482.87 L79.50 484.56 L78.03 485.82 L73.61 489.20 L79.50 489.20"/>
<path d="M 168.61 448.94 L167.84 448.20 L165.71 448.20 L163.77 449.86 L163.00 451.89 L163.00 455.12 L164.45 456.50 L167.84 456.50 L169.29 455.12 L169.29 453.27 L167.84 451.89 L164.45 451.89 L163.00 453.27 M 178.00 448.20 L172.68 448.20 L172.49 451.89 L176.55 451.89 L178.00 453.27 L178.00 455.12 L176.55 456.50 L173.65 456.50 L172.20 455.39 M 180.91 448.20 L186.71 448.20 L183.33 456.50 M 189.62 449.58 L191.07 448.20 L193.97 448.20 L195.43 449.58 L195.43 451.43 L193.97 452.81 L189.62 456.50 L195.43 456.50 M 198.33 449.58 L199.78 448.20 L202.68 448.20 L204.14 449.58 L204.14 451.43 L202.68 452.81 L198.33 456.50 L204.14 456.50 M 207.04 456.50 L207.04 448.20 L210.67 454.19 L214.30 448.20 L214.30 456.50"/>
<path d="M 414.05 505.30 L413.28 504.70 L411.18 504.70 L409.27 506.04 L408.50 507.68 L408.50 510.28 L409.94 511.40 L413.28 511.40 L414.72 510.28 L414.72 508.79 L413.28 507.68 L409.94 507.68 L408.50 508.79 M 423.33 504.70 L418.07 504.70 L417.88 507.68 L421.90 507.68 L423.33 508.79 L423.33 510.28 L421.90 511.40 L419.03 511.40 L417.59 510.51 M 427.83 504.70 L430.79 504.70 L431.75 505.44 L431.75 507.01 L430.70 507.83 L427.92 507.83 L426.87 507.01 L426.87 505.44 ZM 427.92 507.83 L426.20 508.87 L426.20 510.51 L427.35 511.40 L431.27 511.40 L432.42 510.51 L432.42 508.87 L430.70 507.83 M 435.29 505.82 L436.73 504.70 L439.60 504.70 L441.03 505.82 L441.03 507.31 L439.60 508.42 L435.29 511.40 L441.03 511.40 M 445.34 504.70 L447.25 504.70 L448.69 506.19 L448.69 509.91 L447.25 511.40 L445.34 511.40 L443.90 509.91 L443.90 506.19 Z M 457.30 504.70 L451.56 504.70 L451.56 511.40 L457.30 511.40 M451.56 508.05 L456.34 508.05"/>
<path d="M 682.83 117.21 L682.06 116.60 L679.97 116.60 L678.06 117.98 L677.30 119.67 L677.30 122.35 L678.73 123.50 L682.06 123.50 L683.49 122.35 L683.49 120.82 L682.06 119.67 L678.73 119.67 L677.30 120.82 M 686.35 117.75 L687.78 116.60 L690.64 116.60 L692.07 117.75 L692.07 119.28 L690.64 120.43 L686.35 123.50 L692.07 123.50 M 696.55 116.60 L699.50 116.60 L700.46 117.37 L700.46 118.98 L699.41 119.82 L696.64 119.82 L695.60 118.98 L695.60 117.37 ZM 696.64 119.82 L694.93 120.89 L694.93 122.58 L696.07 123.50 L699.98 123.50 L701.12 122.58 L701.12 120.89 L699.41 119.82 M 708.56 123.50 L708.56 116.60 L703.98 121.43 L710.18 121.43 M 714.46 116.60 L716.37 116.60 L717.80 118.13 L717.80 121.97 L716.37 123.50 L714.46 123.50 L713.04 121.97 L713.04 118.13 Z"/>
<path d="M 512.52 164.50 L509.80 167.03 L509.80 169.57 L512.52 172.10 M 520.36 172.10 L520.36 164.50 L515.53 169.82 L522.07 169.82 M 525.08 164.50 L527.80 167.03 L527.80 169.57 L525.08 172.10"/>
<path d="M 888.30 521.00 L888.30 510.20 L894.25 510.20 L895.68 511.64 L895.68 514.76 L894.25 516.20 L888.30 516.20 M892.58 516.20 L896.03 521.00 M 906.50 511.16 L905.55 510.20 L902.93 510.20 L900.55 512.36 L899.60 515.00 L899.60 519.20 L901.39 521.00 L905.55 521.00 L907.33 519.20 L907.33 516.80 L905.55 515.00 L901.39 515.00 L899.60 516.80 M 918.04 510.20 L911.50 510.20 L911.26 515.00 L916.26 515.00 L918.04 516.80 L918.04 519.20 L916.26 521.00 L912.69 521.00 L910.90 519.56 M 923.39 510.20 L925.77 510.20 L927.56 512.60 L927.56 518.60 L925.77 521.00 L923.39 521.00 L921.61 518.60 L921.61 512.60 Z M 932.91 510.20 L935.29 510.20 L937.07 512.60 L937.07 518.60 L935.29 521.00 L932.91 521.00 L931.13 518.60 L931.13 512.60 Z M 942.43 510.20 L944.81 510.20 L946.59 512.60 L946.59 518.60 L944.81 521.00 L942.43 521.00 L940.64 518.60 L940.64 512.60 Z M 950.16 511.40 L951.35 510.20 L956.11 510.20 L957.30 511.40 L957.30 514.16 L955.87 515.48 L953.13 515.48 M955.87 515.48 L957.30 516.80 L957.30 519.56 L955.87 521.00 L951.59 521.00 L950.16 519.80 M 960.87 521.00 L960.87 510.20 L968.60 521.00 L968.60 510.20"/>
</g>
</svg>
</body></html>
